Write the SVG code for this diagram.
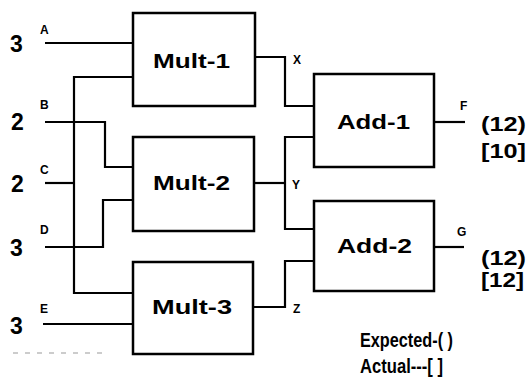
<svg xmlns="http://www.w3.org/2000/svg" width="530" height="383" viewBox="0 0 530 383">
<style>
.box{fill:#fff;stroke:#000;stroke-width:2.5}
.w{fill:none;stroke:#000;stroke-width:2.2}
.t{font-family:"Liberation Sans",Arial,sans-serif;font-weight:bold;fill:#000}
.bl{font-size:21px}
.num{font-size:23px}
.sig{font-size:12px}
.val{font-size:21px}
.leg{font-size:20px}
</style>
<rect width="530" height="383" fill="#fff"/>
<g id="connectors">
<path class="w" d="M45 43H133"/>
<path class="w" d="M133 77H74V293H133"/>
<path class="w" d="M45 122H105V167H133"/>
<path class="w" d="M45 183H74"/>
<path class="w" d="M45 247H103V200H133"/>
<path class="w" d="M43 324H133"/>
<path class="w" d="M255 57H285V106H314"/>
<path class="w" d="M254 183H285"/>
<path class="w" d="M314 137H285V229H314"/>
<path class="w" d="M253 307H285V261H314"/>
<path class="w" d="M434 122H465"/>
<path class="w" d="M434 247H464"/>
<path d="M13 353H105" fill="none" stroke="#999" stroke-width="1" stroke-dasharray="5 7"/>
</g>
<g id="mult1"><rect class="box" x="133" y="13" width="122" height="93"/><text class="t bl" x="153" y="68" textLength="77" lengthAdjust="spacingAndGlyphs">Mult-1</text></g>
<g id="mult2"><rect class="box" x="133" y="137" width="121" height="94"/><text class="t bl" x="153" y="190" textLength="77" lengthAdjust="spacingAndGlyphs">Mult-2</text></g>
<g id="mult3"><rect class="box" x="133" y="262" width="120" height="92"/><text class="t bl" x="152" y="314" textLength="80" lengthAdjust="spacingAndGlyphs">Mult-3</text></g>
<g id="add1"><rect class="box" x="314" y="74" width="120" height="93"/><text class="t bl" x="337" y="129" textLength="73" lengthAdjust="spacingAndGlyphs">Add-1</text></g>
<g id="add2"><rect class="box" x="314" y="201" width="120" height="90"/><text class="t bl" x="337" y="253" textLength="75" lengthAdjust="spacingAndGlyphs">Add-2</text></g>
<g id="inputs">
<text class="t num" x="10" y="52">3</text><text class="t sig" x="40" y="34">A</text>
<text class="t num" x="11" y="130">2</text><text class="t sig" x="40" y="109">B</text>
<text class="t num" x="11" y="192">2</text><text class="t sig" x="40" y="174">C</text>
<text class="t num" x="10" y="256">3</text><text class="t sig" x="40" y="234">D</text>
<text class="t num" x="10" y="334">3</text><text class="t sig" x="40" y="313">E</text>
</g>
<g id="signals">
<text class="t sig" x="293" y="64">X</text>
<text class="t sig" x="292" y="189">Y</text>
<text class="t sig" x="293" y="313">Z</text>
<text class="t sig" x="460" y="110">F</text>
<text class="t sig" x="457" y="236">G</text>
</g>
<g id="outputs">
<text class="t val" x="481" y="131" textLength="45" lengthAdjust="spacingAndGlyphs">(12)</text>
<text class="t val" x="481" y="158" textLength="45" lengthAdjust="spacingAndGlyphs">[10]</text>
<text class="t val" x="481" y="265" textLength="45" lengthAdjust="spacingAndGlyphs">(12)</text>
<text class="t val" x="481" y="287" textLength="43" lengthAdjust="spacingAndGlyphs">[12]</text>
</g>
<g id="legend">
<text class="t leg" x="360" y="347" textLength="93" lengthAdjust="spacingAndGlyphs">Expected-( )</text>
<text class="t leg" x="360" y="373" textLength="83" lengthAdjust="spacingAndGlyphs">Actual---[ ]</text>
</g>
</svg>
